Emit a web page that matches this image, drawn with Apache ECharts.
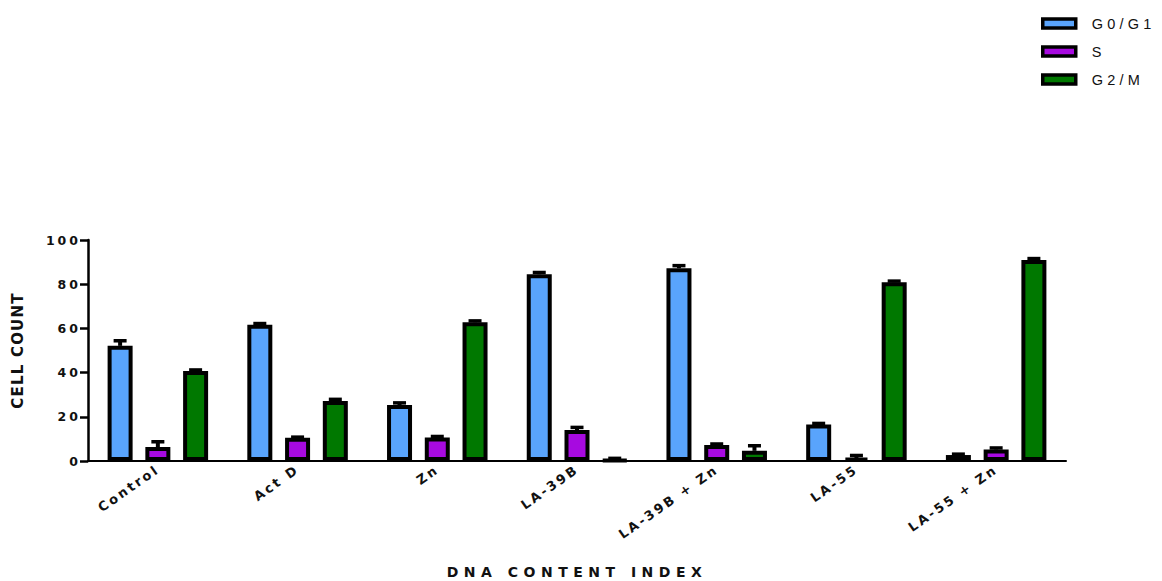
<!DOCTYPE html>
<html>
<head>
<meta charset="utf-8">
<script src="https://cdn.jsdelivr.net/npm/echarts@6/dist/echarts.min.js"></script>
<style>
  html, body { margin: 0; padding: 0; background: #fff; }
  #chart { width: 1162px; height: 581px; }
  /* wide letter spacing for the axis and legend labels */
  #chart svg text[style*="12.5px"] { letter-spacing: 3px; }
  #chart svg text[style*="13px"] { letter-spacing: 2.5px; }
  #chart svg text[style*="15px"] { letter-spacing: 1.2px; }
  #chart svg text[style*="14px"] { letter-spacing: 5.5px; }
  #chart svg text[style*="14.5px"] { letter-spacing: 4.2px; }
</style>
</head>
<body>
<div id="chart"></div>
<script>
// Treatment groups along the x axis
const categories = ['Control', 'Act D', 'Zn', 'LA-39B', 'LA-39B + Zn', 'LA-55', 'LA-55 + Zn'];

// Cell-cycle phase fractions (mean) per treatment
const g0g1 = [52.1, 61.7, 25.3, 84.5, 87.2, 16.5, 2.7];
const sPhase = [6.3, 10.5, 10.6, 14.0, 7.2, 1.3, 5.2];
const g2m = [40.7, 27.1, 62.8, 0.4, 4.6, 80.9, 91.0];

// Upper error (SEM) per treatment
const g0g1Err = [2.3, 0.5, 1.0, 0.8, 1.2, 0.5, 0.4];
const sPhaseErr = [2.4, 0.3, 0.5, 1.2, 0.5, 1.2, 0.7];
const g2mErr = [0.5, 0.8, 0.6, 0.8, 2.3, 0.5, 0.6];

// Y axis ticks
const yTicks = [0, 20, 40, 60, 80, 100];

const seriesNames = ['G0/G1', 'S', 'G2/M'];
const seriesColors = ['#59a4fc', '#a70ae0', '#007800'];

const BAR_W = 25;
const BAR_GAP = 0.51;
const CAP_W = 13;
const BOLD_FONT = '"DejaVu Sans", Verdana, sans-serif';
const PLAIN_FONT = 'Arial, "Liberation Sans", sans-serif';

const chart = echarts.init(document.getElementById('chart'), null, { renderer: 'svg' });

function barSeries(name, values, color) {
  return {
    name: name,
    type: 'bar',
    data: values,
    barWidth: BAR_W,
    barGap: (BAR_GAP * 100) + '%',
    itemStyle: { color: color, borderColor: '#000', borderWidth: 4 },
    z: 2
  };
}

// Upper error bars drawn over each bar of the group
function errorSeries(values, errs, slot) {
  const offset = (slot - 1) * BAR_W * (1 + BAR_GAP);
  return {
    type: 'custom',
    data: categories.map((c, i) => [i, values[i], errs[i]]),
    encode: { x: 0, y: 1 },
    z: 5,
    silent: true,
    renderItem: function (params, api) {
      const cat = api.value(0);
      const v = api.value(1);
      const e = api.value(2);
      const base = api.coord([cat, v]);
      const top = api.coord([cat, v + e]);
      const x = base[0] + offset;
      return {
        type: 'group',
        children: [
          { type: 'line', shape: { x1: x, y1: base[1], x2: x, y2: top[1] },
            style: { stroke: '#000', lineWidth: 4 } },
          { type: 'line', shape: { x1: x - CAP_W / 2, y1: top[1], x2: x + CAP_W / 2, y2: top[1] },
            style: { stroke: '#000', lineWidth: 3.5 } }
        ]
      };
    }
  };
}

const option = {
  animation: false,
  backgroundColor: '#fff',
  grid: { left: 88, right: 96, top: 240, bottom: 120, containLabel: false },
  legend: {
    data: seriesNames,
    orient: 'vertical',
    left: 1041,
    top: 16,
    padding: 0,
    itemWidth: 33,
    itemHeight: 9,
    itemGap: 13,
    icon: 'rect',
    itemStyle: { borderColor: '#000', borderWidth: 3.5 },
    textStyle: {
      fontFamily: PLAIN_FONT,
      fontSize: 14.5,
      color: '#111',
      padding: [0, 0, 0, 11]
    }
  },
  xAxis: {
    type: 'category',
    data: categories,
    name: 'DNA CONTENT INDEX',
    nameLocation: 'middle',
    nameGap: 104,
    nameTextStyle: {
      fontFamily: BOLD_FONT,
      fontSize: 14,
      fontWeight: 'bold',
      color: '#111'
    },
    axisLine: { lineStyle: { color: '#000', width: 2 } },
    axisTick: { alignWithLabel: true, length: 6, lineStyle: { color: '#000', width: 2.5 } },
    axisLabel: {
      rotate: 35,
      margin: 7,
      interval: 0,
      fontFamily: BOLD_FONT,
      fontSize: 13,
      fontWeight: 'bold',
      color: '#111'
    }
  },
  yAxis: {
    type: 'value',
    min: yTicks[0],
    max: yTicks[yTicks.length - 1],
    interval: yTicks[1] - yTicks[0],
    name: 'CELL COUNT',
    nameLocation: 'middle',
    nameRotate: 90,
    nameGap: 63,
    nameTextStyle: {
      fontFamily: BOLD_FONT,
      fontSize: 15,
      fontWeight: 'bold',
      color: '#111'
    },
    splitLine: { show: false },
    axisLine: { show: true, lineStyle: { color: '#000', width: 2.5 } },
    axisTick: { show: true, length: 8, lineStyle: { color: '#000', width: 2.5 } },
    axisLabel: {
      margin: 7,
      fontFamily: BOLD_FONT,
      fontSize: 12.5,
      fontWeight: 'bold',
      color: '#111'
    }
  },
  series: [
    barSeries(seriesNames[0], g0g1, seriesColors[0]),
    barSeries(seriesNames[1], sPhase, seriesColors[1]),
    barSeries(seriesNames[2], g2m, seriesColors[2]),
    errorSeries(g0g1, g0g1Err, 0),
    errorSeries(sPhase, sPhaseErr, 1),
    errorSeries(g2m, g2mErr, 2)
  ]
};

chart.setOption(option);
</script>
</body>
</html>
